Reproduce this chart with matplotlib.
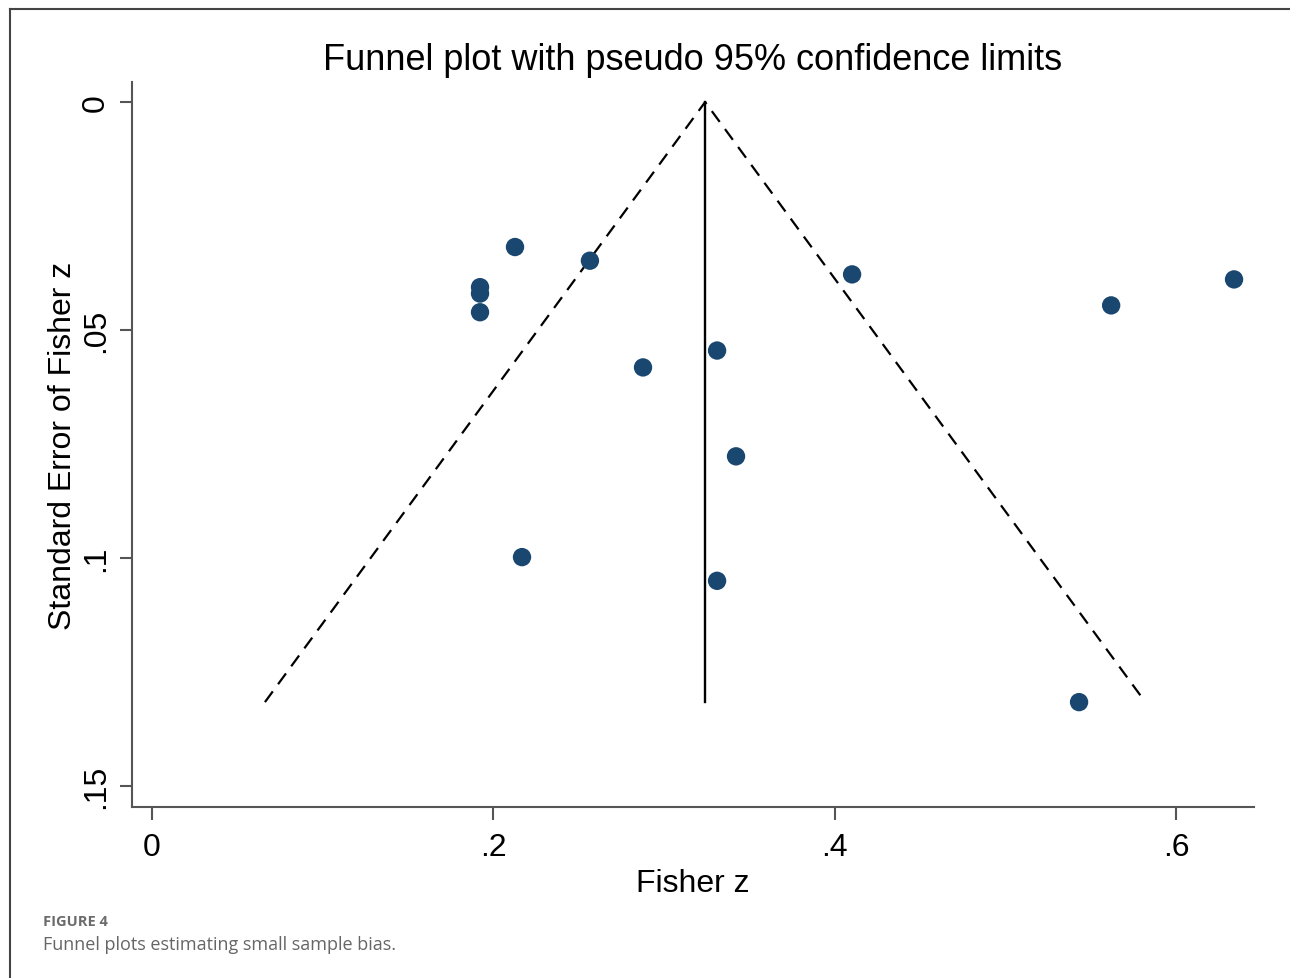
import matplotlib
matplotlib.use("Agg")
import matplotlib.pyplot as plt
from matplotlib.lines import Line2D
import numpy as np

# Data
fisher_z = [0.2127, 0.2566, 0.1922, 0.1922, 0.1922, 0.2877, 0.3311, 0.3422,
            0.2168, 0.3311, 0.4102, 0.5620, 0.6340, 0.5432]
se_z = [0.0318, 0.0348, 0.0406, 0.0420, 0.0461, 0.0582, 0.0545, 0.0777,
        0.0998, 0.1050, 0.0378, 0.0446, 0.0389, 0.1316]
pooled = 0.3241
se_max = 0.1316
x_ticks = [0, 0.2, 0.4, 0.6]
x_tick_labels = ["0", ".2", ".4", ".6"]
y_ticks = [0, 0.05, 0.1, 0.15]
y_tick_labels = ["0", ".05", ".1", ".15"]

W, H = 1290, 979
fig = plt.figure(figsize=(W / 100, H / 100), dpi=100)
fig.patch.set_facecolor("white")

def fx(px):
    return px / W

def fy(py):
    return 1 - py / H

ax = fig.add_axes([fx(132), fy(808), fx(1254) - fx(132), fy(83) - fy(808)])
ax.set_xlim(-0.01172, 0.6457)
ax.set_ylim(0.1546, -0.00439)

font = "Liberation Sans"
navy = "#1a476f"

# funnel limits
ax.plot([pooled - 1.96 * se_max, pooled, pooled + 1.96 * se_max],
        [se_max, 0, se_max], color="black", lw=1.6, ls=(0, (6, 4)))
ax.plot([pooled, pooled], [0, se_max], color="black", lw=1.7)
ax.scatter(fisher_z, se_z, s=175, color=navy, zorder=3, edgecolors="none")

for s in ["top", "right"]:
    ax.spines[s].set_visible(False)
for s in ["left", "bottom"]:
    ax.spines[s].set_color("#555555")
    ax.spines[s].set_linewidth(1.5)

ax.set_xticks(x_ticks)
ax.set_xticklabels(x_tick_labels, fontfamily=font, fontsize=23)
ax.set_yticks(y_ticks)
ax.set_yticklabels(y_tick_labels, fontfamily=font, fontsize=23, rotation=90, va="center")
ax.tick_params(axis="x", direction="out", length=9, width=1.5, color="#555555", pad=9)
ax.tick_params(axis="y", direction="out", length=9, width=1.5, color="#555555", pad=6)

ax.set_xlabel("Fisher z", fontfamily=font, fontsize=23, labelpad=4)
ax.set_ylabel("Standard Error of Fisher z", fontfamily=font, fontsize=23, labelpad=2)

fig.text(fx(693), fy(61), "Funnel plot with pseudo 95% confidence limits",
         fontfamily=font, fontsize=26, ha="center", va="center")

# frame
fig.add_artist(Line2D([fx(10), fx(10)], [fy(10), 0], color="#444444", lw=1.5))
fig.add_artist(Line2D([fx(10), 1], [fy(10), fy(10)], color="#444444", lw=1.5))

fig.text(fx(43), fy(922), "FIGURE 4", fontfamily="Open Sans", fontweight="bold",
         fontsize=10.5, color="#6b6b6b", ha="left", va="center")
fig.text(fx(43), fy(945), "Funnel plots estimating small sample bias.",
         fontfamily="Open Sans", fontsize=13, color="#666666", ha="left", va="center")

fig.savefig("out.png", dpi=100)
